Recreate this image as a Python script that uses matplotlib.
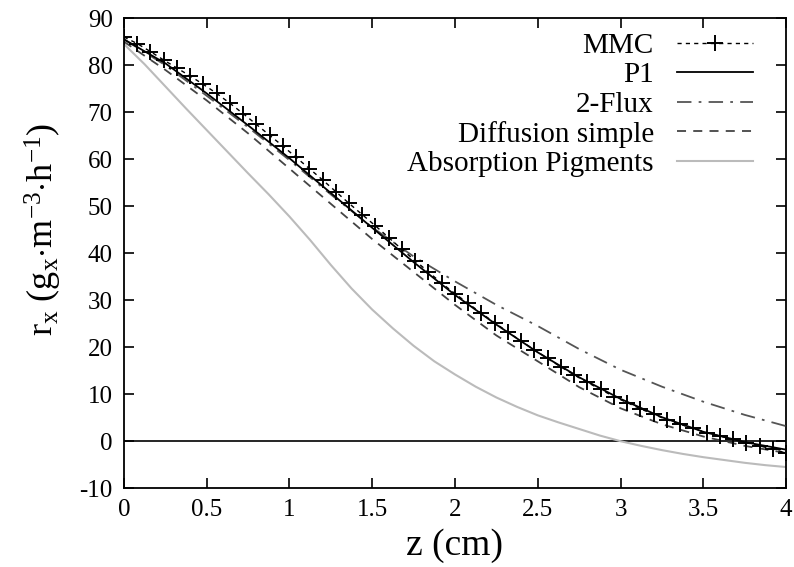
import numpy as np
import matplotlib
matplotlib.use("Agg")
import matplotlib.pyplot as plt
from matplotlib.ticker import FormatStrFormatter, MultipleLocator

plt.rcParams['font.family'] = ['Liberation Serif', 'DejaVu Serif']
plt.rcParams['mathtext.fontset'] = 'custom'
plt.rcParams['mathtext.rm'] = 'Liberation Serif'
plt.rcParams['mathtext.it'] = 'Liberation Serif:italic'
plt.rcParams['axes.unicode_minus'] = False

# MMC points (step 0.08 cm)
z_mmc = [0.00, 0.08, 0.16, 0.24, 0.32, 0.40, 0.48, 0.56, 0.64, 0.72,
         0.80, 0.88, 0.96, 1.04, 1.12, 1.20, 1.28, 1.36, 1.44, 1.52,
         1.60, 1.68, 1.76, 1.84, 1.92, 2.00, 2.08, 2.16, 2.24, 2.32,
         2.40, 2.48, 2.56, 2.64, 2.72, 2.80, 2.88, 2.96, 3.04, 3.12,
         3.20, 3.28, 3.36, 3.44, 3.52, 3.60, 3.68, 3.76, 3.84, 3.92, 4.00]
r_mmc = [86.0, 84.6, 82.9, 81.1, 79.4, 77.7, 75.9, 74.0, 71.9, 69.7,
         67.4, 65.1, 62.8, 60.4, 58.0, 55.6, 53.1, 50.6, 48.2, 45.8,
         43.3, 40.8, 38.4, 36.0, 33.6, 31.4, 29.3, 27.2, 25.2, 23.2,
         21.3, 19.4, 17.6, 15.8, 14.1, 12.5, 11.0, 9.5, 8.2, 6.9,
         5.7, 4.6, 3.6, 2.7, 1.8, 1.1, 0.4, -0.3, -1.0, -1.7, -2.5]

# model curves (step 0.25 cm)
z_mod = [0.0, 0.25, 0.5, 0.75, 1.0, 1.25, 1.5, 1.75, 2.0,
         2.25, 2.5, 2.75, 3.0, 3.25, 3.5, 3.75, 4.0]
r_p1 = [85.5, 80.4, 74.0, 67.2, 60.2, 52.8, 45.4, 38.1, 31.1,
        24.8, 18.9, 13.6, 9.0, 5.1, 2.0, -0.2, -1.8]
r_2flux = [85.5, 80.0, 73.5, 66.8, 59.8, 52.5, 45.5, 39.3, 34.0,
           29.0, 24.5, 19.6, 15.2, 11.6, 8.4, 5.6, 3.2]
r_diff = [85.0, 79.0, 72.5, 65.5, 58.0, 50.5, 43.0, 36.0, 29.0,
          22.5, 17.0, 11.5, 7.0, 3.6, 1.0, -1.0, -2.5]

# absorption pigments (step 0.125 cm)
z_abs = [0.0, 0.125, 0.25, 0.375, 0.5, 0.625, 0.75, 0.875, 1.0,
         1.125, 1.25, 1.375, 1.5, 1.625, 1.75, 1.875, 2.0,
         2.125, 2.25, 2.375, 2.5, 2.625, 2.75, 2.875, 3.0,
         3.125, 3.25, 3.375, 3.5, 3.625, 3.75, 3.875, 4.0]
r_abs = [84.5, 80.2, 75.5, 70.8, 66.2, 61.6, 57.0, 52.5, 47.8,
         42.8, 37.5, 32.5, 28.0, 24.0, 20.3, 17.0, 14.2,
         11.6, 9.3, 7.3, 5.5, 4.0, 2.6, 1.2, 0.0,
         -1.0, -1.9, -2.7, -3.4, -4.0, -4.6, -5.1, -5.5]

fig = plt.figure(figsize=(7.94, 5.67), dpi=100)
ax = fig.add_axes([0.156, 0.139, 0.834, 0.829])

ax.axhline(0, color='black', lw=1.2, zorder=1)
ax.plot(z_mmc, r_mmc, color='black', ls=(0, (3, 3)), lw=1.0,
        marker='+', ms=11, mew=1.4, label='MMC', zorder=5)
ax.plot(z_mod, r_p1, color='black', lw=1.3, label='P1', zorder=4)
ax.plot(z_mod, r_2flux, color='#555555', lw=1.3, ls=(0, (8, 4, 1.5, 4)),
        label='2-Flux', zorder=3)
ax.plot(z_mod, r_diff, color='#444444', lw=1.3, ls=(0, (5, 4)),
        label='Diffusion simple', zorder=3)
ax.plot(z_abs, r_abs, color='#bbbbbb', lw=1.5, label='Absorption Pigments', zorder=2)

ax.set_xlim(0, 4)
ax.set_ylim(-10, 90)
ax.xaxis.set_major_locator(MultipleLocator(0.5))
ax.yaxis.set_major_locator(MultipleLocator(10))
ax.xaxis.set_major_formatter(FormatStrFormatter('%g'))
ax.tick_params(direction='in', top=True, right=True, length=7, width=1.2,
               labelsize=18, pad=8)
for s in ax.spines.values():
    s.set_linewidth(1.3)

ax.set_xlabel('z (cm)', fontsize=27, labelpad=5)
ax.set_ylabel(r'r$_\mathregular{x}$ (g$_\mathregular{x}$$\cdot$m$^\mathregular{-3}$$\cdot$h$^\mathregular{-1}$)',
              fontsize=26)
ax.yaxis.set_label_coords(-0.09, 0.55)

ax.legend(loc='upper right', frameon=False, markerfirst=False, alignment='right',
          fontsize=21, handlelength=2.6, handletextpad=0.8, labelspacing=0.1,
          borderaxespad=0.1, bbox_to_anchor=(0.972, 1.0))

fig.savefig('out.png', dpi=100)
